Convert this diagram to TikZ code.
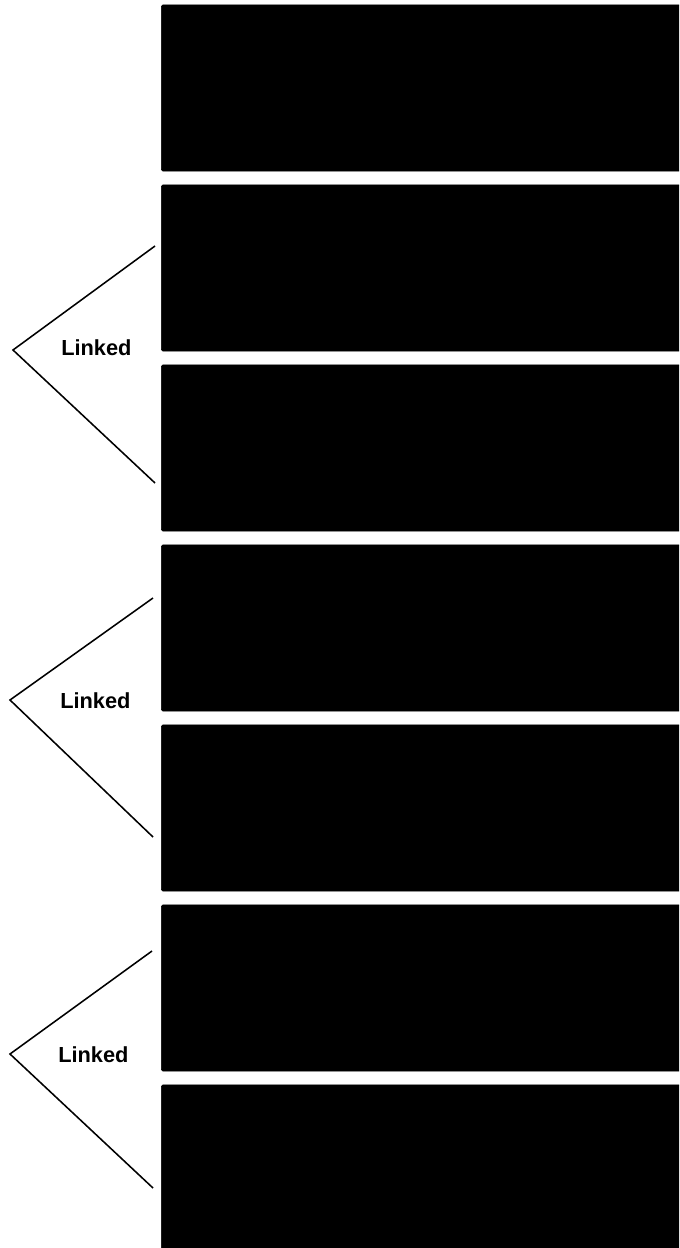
\documentclass[tikz,border=0pt]{standalone}
\usepackage{fontspec}
\setmainfont{Liberation Sans}
\usetikzlibrary{positioning}

\begin{document}
\begin{tikzpicture}[
    x=0.025cm, y=-0.025cm,
    panel/.style={fill=black, draw=black, rounded corners=1pt, minimum width=13.4cm, minimum height=4.15cm, inner sep=0pt, anchor=west},
    brace/.style={line width=1.1pt, line join=miter},
    tag/.style={font=\fontsize{15.5}{18}\selectfont\bfseries, anchor=base west, inner sep=0pt}
]
\useasboundingbox (0,0) rectangle (679,1248);
\clip (0,0) rectangle (679,1248);

\foreach \i/\y in {1/88, 2/268, 3/448, 4/628, 5/808, 6/988, 7/1168}
  \node[panel] (p\i) at (161,\y) {};

% link brackets
\coordinate (t1a) at (155,246);
\coordinate (t1) at (13,350);
\coordinate (t1b) at (155,483);
\coordinate (t2a) at (153,598);
\coordinate (t2) at (10,700);
\coordinate (t2b) at (153,837);
\coordinate (t3a) at (152,951);
\coordinate (t3) at (10,1054);
\coordinate (t3b) at (153,1188);

\foreach \k in {1,2,3}
  \draw[brace] (t\k a) -- (t\k) -- (t\k b);

\node[tag] (l1) at (61,355) {Linked};
\node[tag] (l2) at (60,708) {Linked};
\node[tag] (l3) at (58,1062) {Linked};
\end{tikzpicture}
\end{document}
